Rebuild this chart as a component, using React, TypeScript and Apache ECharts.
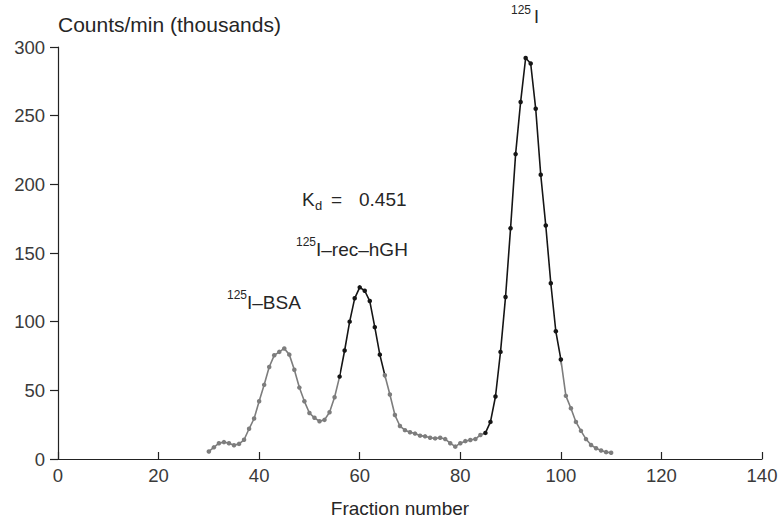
import React, { useEffect, useRef } from "react";
import * as echarts from "echarts";

// Fraction numbers (x) and counts/min in thousands (y)
const fractions = [
  30, 31, 32, 33, 34, 35, 36, 37, 38, 39,
  40, 41, 42, 43, 44, 45, 46, 47, 48, 49,
  50, 51, 52, 53, 54, 55, 56, 57, 58, 59,
  60, 61, 62, 63, 64, 65, 66, 67, 68, 69,
  70, 71, 72, 73, 74, 75, 76, 77, 78, 79,
  80, 81, 82, 83, 84, 85, 86, 87, 88, 89,
  90, 91, 92, 93, 94, 95, 96, 97, 98, 99,
  100, 101, 102, 103, 104, 105, 106, 107, 108, 109, 110,
];
const counts = [
  5.5, 8.5, 11.5, 12.3, 11.5, 10, 11, 14, 22, 29.5,
  42, 54, 67, 75.5, 78, 80.5, 76, 65, 52, 42,
  33.5, 30, 27.5, 28.5, 34, 45, 60, 79, 100, 117,
  125, 122.5, 115, 96, 76, 61, 47, 32, 24, 21,
  19.5, 18.5, 17, 16.5, 15.5, 15, 15.5, 14.5, 11.5, 9,
  11.5, 13, 13.8, 14.5, 17.5, 19, 27, 45.5, 78, 118,
  168, 222, 260, 292, 288, 255, 207, 170, 128, 93,
  72.5, 46, 37, 27, 20.5, 14.5, 10.2, 7.8, 6.2, 5, 4.5,
];
const xTicks = { min: 0, max: 140, interval: 20 };
const yTicks = { min: 0, max: 300, interval: 50 };

const FONT = "'Liberation Sans', Arial, Helvetica, sans-serif";
const GREY = "#7d7d7d";
const BLACK = "#151515";
const TEXT = "#262626";

export default function App() {
  const ref = useRef<HTMLDivElement>(null);

  useEffect(() => {
    if (!ref.current) return;
    const chart = echarts.init(ref.current, undefined, { renderer: "svg" });
    const data = fractions.map((f, i) => [f, counts[i]]);

    const txt = (text: string, x: number, y: number, size: number, extra: any = {}) => ({
      type: "text",
      x,
      y,
      silent: true,
      style: {
        text,
        fontFamily: FONT,
        fontSize: size,
        fill: TEXT,
        textVerticalAlign: "middle",
        ...extra,
      },
    });

    chart.setOption({
      animation: false,
      backgroundColor: "#ffffff",
      grid: { left: 58, right: 22, top: 47, bottom: 64, containLabel: false },
      xAxis: {
        type: "value",
        min: xTicks.min,
        max: xTicks.max,
        interval: xTicks.interval,
        name: "Fraction number",
        nameLocation: "middle",
        nameGap: 40,
        nameTextStyle: { fontFamily: FONT, fontSize: 19, color: TEXT, padding: [0, 20, 0, 0] },
        axisLine: { onZero: false, lineStyle: { color: "#222", width: 1.2 } },
        axisTick: { inside: true, length: 7, lineStyle: { color: "#222", width: 1.2 } },
        axisLabel: { fontFamily: FONT, fontSize: 18.5, color: "#3a3a3a", margin: 7 },
        splitLine: { show: false },
      },
      yAxis: {
        type: "value",
        min: yTicks.min,
        max: yTicks.max,
        interval: yTicks.interval,
        name: "Counts/min (thousands)",
        nameLocation: "end",
        nameGap: 23,
        nameTextStyle: {
          fontFamily: FONT,
          fontSize: 21,
          color: TEXT,
          align: "left",
          verticalAlign: "middle",
        },
        axisLine: { show: true, lineStyle: { color: "#222", width: 1.2 } },
        axisTick: { show: true, inside: false, length: 8, lineStyle: { color: "#222", width: 1.2 } },
        axisLabel: { fontFamily: FONT, fontSize: 18.5, color: "#3a3a3a", margin: 13 },
        splitLine: { show: false },
      },
      visualMap: {
        type: "piecewise",
        show: false,
        dimension: 0,
        seriesIndex: 0,
        pieces: [
          { lt: 56, color: GREY },
          { gte: 56, lt: 65, color: BLACK },
          { gte: 65, lt: 85, color: GREY },
          { gte: 85, lte: 100, color: BLACK },
          { gt: 100, color: GREY },
        ],
      },
      series: [
        {
          type: "line",
          data,
          showSymbol: true,
          symbol: "circle",
          symbolSize: 4.5,
          lineStyle: { width: 1.6 },
          silent: true,
        },
      ],
      graphic: [
        // 125I over the large peak
        txt("125", 511, 10, 12),
        txt("I", 534, 17, 18),
        // Kd = 0.451
        txt("K", 302, 199, 19),
        txt("d", 315, 205, 13),
        txt("=", 331, 199, 19),
        txt("0.451", 359, 199, 19),
        // 125I–rec–hGH
        txt("125", 296, 242, 12),
        txt("I–rec–hGH", 316, 249, 19),
        // 125I–BSA
        txt("125", 227, 295, 12),
        txt("I–BSA", 247, 302, 19),
      ],
    });

    return () => chart.dispose();
  }, []);

  return (
    <div
      ref={ref}
      style={{ position: "fixed", left: 0, top: 0, width: 784, height: 523, background: "#fff" }}
    />
  );
}
